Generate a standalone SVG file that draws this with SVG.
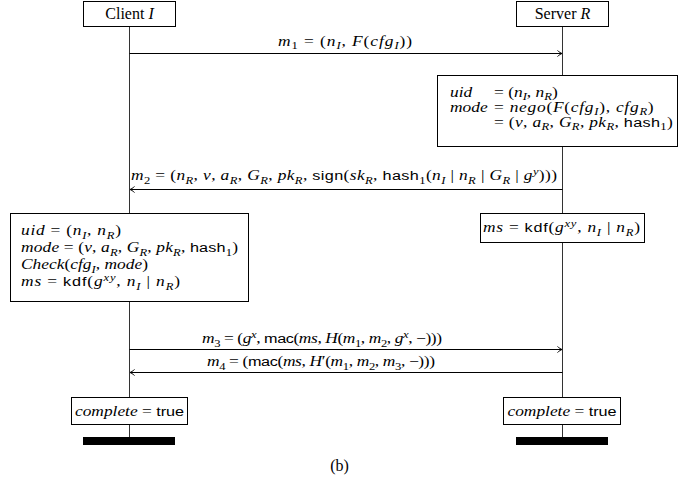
<svg xmlns="http://www.w3.org/2000/svg" width="679" height="482" viewBox="0 0 679 482">
<style>
.h{font-family:"Liberation Serif","DejaVu Serif",serif;font-size:16px;fill:#000}
.t{font-family:"Liberation Serif","DejaVu Serif",serif;font-size:14.5px;fill:#000}
.i{font-style:italic}
.s{font-family:"Liberation Sans","DejaVu Sans",sans-serif;font-size:13.5px;font-style:normal}
.b{font-size:10.5px;baseline-shift:-3.5px}
.p{font-size:10.5px;baseline-shift:5.5px}
.box{fill:#fff;stroke:#000;stroke-width:1}
.life{stroke:#333;stroke-width:1;fill:none}
.msg{stroke:#000;stroke-width:1;fill:none;marker-end:url(#arr)}
</style>
<defs>
<marker id="arr" viewBox="-6 -4 7 8" refX="0" refY="0" markerWidth="7" markerHeight="8" markerUnits="userSpaceOnUse" orient="auto">
<path d="M-4.5,-3 C-3,-1.5 -1,-0.4 0,0 C-1,0.4 -3,1.5 -4.5,3" fill="none" stroke="#000" stroke-width="1"/>
</marker>
</defs>
<g id="lifelines">
<line class="life" x1="129.5" y1="26" x2="129.5" y2="437"/>
<line class="life" x1="562.5" y1="26" x2="562.5" y2="437"/>
</g>
<g id="client">
<rect class="box" x="83.5" y="1.5" width="92" height="25"/>
<text class="h" x="129.5" y="19" text-anchor="middle">Client <tspan class="i">I</tspan></text>
</g>
<g id="server">
<rect class="box" x="516.5" y="1.5" width="92" height="25"/>
<text class="h" x="562.5" y="19" text-anchor="middle">Server <tspan class="i">R</tspan></text>
</g>
<g id="connectors">
<line class="msg" x1="129.5" y1="53.5" x2="562" y2="53.5"/>
<line class="msg" x1="562.5" y1="189.5" x2="130" y2="189.5"/>
<line class="msg" x1="129.5" y1="349.5" x2="562" y2="349.5"/>
<line class="msg" x1="562.5" y1="372.5" x2="130" y2="372.5"/>
</g>
<g id="labels">
<text class="t" transform="translate(278 45.5) scale(1.2 1)" textLength="111.7"><tspan class="i">m</tspan><tspan class="b">1</tspan> = (<tspan class="i">n</tspan><tspan class="b i">I</tspan>, <tspan class="i">F</tspan>(<tspan class="i">cfg</tspan><tspan class="b i">I</tspan>))</text>
<text class="t" transform="translate(131 180) scale(1.2 1)" textLength="355"><tspan class="i">m</tspan><tspan class="b">2</tspan> = (<tspan class="i">n</tspan><tspan class="b i">R</tspan>, <tspan class="i">v</tspan>, <tspan class="i">a</tspan><tspan class="b i">R</tspan>, <tspan class="i">G</tspan><tspan class="b i">R</tspan>, <tspan class="i">pk</tspan><tspan class="b i">R</tspan>, <tspan class="s">sign</tspan>(<tspan class="i">sk</tspan><tspan class="b i">R</tspan>, <tspan class="s">hash</tspan><tspan class="b">1</tspan>(<tspan class="i">n</tspan><tspan class="b i">I</tspan> | <tspan class="i">n</tspan><tspan class="b i">R</tspan> | <tspan class="i">G</tspan><tspan class="b i">R</tspan> | <tspan class="i">g</tspan><tspan class="p i">y</tspan>)))</text>
<text class="t" transform="translate(202 343) scale(1.2 1)" textLength="200"><tspan class="i">m</tspan><tspan class="b">3</tspan> = (<tspan class="i">g</tspan><tspan class="p i">x</tspan>, <tspan class="s">mac</tspan>(<tspan class="i">ms</tspan>, <tspan class="i">H</tspan>(<tspan class="i">m</tspan><tspan class="b">1</tspan>, <tspan class="i">m</tspan><tspan class="b">2</tspan>, <tspan class="i">g</tspan><tspan class="p i">x</tspan>, −)))</text>
<text class="t" transform="translate(207 366) scale(1.2 1)" textLength="190"><tspan class="i">m</tspan><tspan class="b">4</tspan> = (<tspan class="s">mac</tspan>(<tspan class="i">ms</tspan>, <tspan class="i">H</tspan>′(<tspan class="i">m</tspan><tspan class="b">1</tspan>, <tspan class="i">m</tspan><tspan class="b">2</tspan>, <tspan class="i">m</tspan><tspan class="b">3</tspan>, −)))</text>
</g>
<g id="server-nego">
<rect class="box" x="437.5" y="75.5" width="240" height="71"/>
<text class="t i" transform="translate(450 96.5) scale(1.2 1)">uid</text>
<text class="t" transform="translate(494 96.5) scale(1.2 1)">= (<tspan class="i">n</tspan><tspan class="b i">I</tspan>, <tspan class="i">n</tspan><tspan class="b i">R</tspan>)</text>
<text class="t i" transform="translate(450 111.5) scale(1.2 1)">mode</text>
<text class="t" transform="translate(494 111.5) scale(1.2 1)" textLength="133">= <tspan class="i">nego</tspan>(<tspan class="i">F</tspan>(<tspan class="i">cfg</tspan><tspan class="b i">I</tspan>), <tspan class="i">cfg</tspan><tspan class="b i">R</tspan>)</text>
<text class="t" transform="translate(494 126.5) scale(1.2 1)" textLength="149">= (<tspan class="i">v</tspan>, <tspan class="i">a</tspan><tspan class="b i">R</tspan>, <tspan class="i">G</tspan><tspan class="b i">R</tspan>, <tspan class="i">pk</tspan><tspan class="b i">R</tspan>, <tspan class="s">hash</tspan><tspan class="b">1</tspan>)</text>
</g>
<g id="client-check">
<rect class="box" x="10.5" y="213.5" width="238" height="88"/>
<text class="t" transform="translate(21 235) scale(1.2 1)" textLength="83.3"><tspan class="i">uid</tspan> = (<tspan class="i">n</tspan><tspan class="b i">I</tspan>, <tspan class="i">n</tspan><tspan class="b i">R</tspan>)</text>
<text class="t" transform="translate(21 252) scale(1.2 1)" textLength="180.8"><tspan class="i">mode</tspan> = (<tspan class="i">v</tspan>, <tspan class="i">a</tspan><tspan class="b i">R</tspan>, <tspan class="i">G</tspan><tspan class="b i">R</tspan>, <tspan class="i">pk</tspan><tspan class="b i">R</tspan>, <tspan class="s">hash</tspan><tspan class="b">1</tspan>)</text>
<text class="t" transform="translate(21 269) scale(1.2 1)" textLength="105.8"><tspan class="i">Check</tspan>(<tspan class="i">cfg</tspan><tspan class="b i">I</tspan>, <tspan class="i">mode</tspan>)</text>
<text class="t" transform="translate(21 286) scale(1.2 1)" textLength="132.5"><tspan class="i">ms</tspan> = <tspan class="s">kdf</tspan>(<tspan class="i">g</tspan><tspan class="p i">xy</tspan>, <tspan class="i">n</tspan><tspan class="b i">I</tspan> | <tspan class="i">n</tspan><tspan class="b i">R</tspan>)</text>
</g>
<g id="server-kdf">
<rect class="box" x="480.5" y="213.5" width="164" height="29"/>
<text class="t" transform="translate(483 232) scale(1.2 1)" textLength="130.8"><tspan class="i">ms</tspan> = <tspan class="s">kdf</tspan>(<tspan class="i">g</tspan><tspan class="p i">xy</tspan>, <tspan class="i">n</tspan><tspan class="b i">I</tspan> | <tspan class="i">n</tspan><tspan class="b i">R</tspan>)</text>
</g>
<g id="client-complete">
<rect class="box" x="71.5" y="397.5" width="116" height="27"/>
<text class="t" transform="translate(129.5 415.5) scale(1.2 1)" text-anchor="middle"><tspan class="i">complete</tspan> = <tspan class="s">true</tspan></text>
</g>
<g id="server-complete">
<rect class="box" x="503.5" y="397.5" width="117" height="27"/>
<text class="t" transform="translate(562 415.5) scale(1.2 1)" text-anchor="middle"><tspan class="i">complete</tspan> = <tspan class="s">true</tspan></text>
</g>
<g id="client-end">
<rect x="83" y="437" width="92" height="8" fill="#000"/>
</g>
<g id="server-end">
<rect x="516" y="437" width="92" height="8" fill="#000"/>
</g>
<text class="h" x="339.5" y="471" text-anchor="middle">(b)</text>
</svg>
